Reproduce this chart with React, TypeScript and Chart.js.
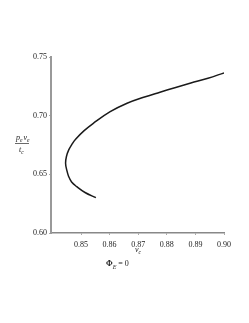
import React, { useEffect, useRef } from "react";
import { Chart, registerables } from "chart.js";

Chart.register(...registerables);

const vcValues = [0.8552, 0.8514, 0.8485, 0.8467, 0.8457, 0.845, 0.8446, 0.8449, 0.8457, 0.8469, 0.8481, 0.851, 0.8543, 0.8602, 0.8661, 0.8719, 0.8776, 0.8831, 0.8884, 0.8944, 0.9];
const ratioValues = [0.6301, 0.6345, 0.6395, 0.6435, 0.648, 0.6537, 0.6594, 0.6652, 0.6708, 0.6759, 0.6799, 0.687, 0.6935, 0.7034, 0.7106, 0.7157, 0.72, 0.724, 0.7278, 0.7319, 0.7365];
const xTicks = [0.85, 0.86, 0.87, 0.88, 0.89, 0.9];
const yTicks = [0.6, 0.65, 0.7, 0.75];

const SERIF = "'Liberation Serif', 'DejaVu Serif', serif";

function subText(ctx: CanvasRenderingContext2D, x: number, y: number, main: string, sub: string, size: number, italicMain = true, boldMain = false) {
  ctx.font = `${italicMain ? "italic " : ""}${boldMain ? "bold " : ""}${size}px ${SERIF}`;
  ctx.fillText(main, x, y);
  const w = ctx.measureText(main).width;
  ctx.font = `italic ${size * 0.7}px ${SERIF}`;
  ctx.fillText(sub, x + w, y + size * 0.3);
  return w + ctx.measureText(sub).width;
}

const labelsPlugin = {
  id: "labelsPlugin",
  afterDraw(chart: any) {
    const ctx = chart.ctx as CanvasRenderingContext2D;
    ctx.save();
    ctx.fillStyle = "#222";
    ctx.textBaseline = "alphabetic";
    ctx.textAlign = "left";
    // y title fraction
    let x = 16;
    x += subText(ctx, x, 140, "p", "e", 8);
    x += 1;
    subText(ctx, x, 140, "v", "e", 8);
    ctx.strokeStyle = "#444";
    ctx.lineWidth = 0.8;
    ctx.beginPath();
    ctx.moveTo(15, 143.5);
    ctx.lineTo(29, 143.5);
    ctx.stroke();
    subText(ctx, 19, 152, "t", "c", 8);
    // x title
    subText(ctx, 135, 252, "v", "c", 8);
    // Phi_E = 0
    ctx.font = `bold 8px ${SERIF}`;
    ctx.fillText("\u03A6", 106, 266);
    let w = ctx.measureText("\u03A6").width;
    ctx.font = `italic 6px ${SERIF}`;
    ctx.fillText("E", 106 + w, 268.5);
    w += ctx.measureText("E").width;
    ctx.font = `8px ${SERIF}`;
    ctx.fillText(" = 0", 106 + w, 266);
    ctx.restore();
  },
};

export default function App() {
  const ref = useRef<HTMLCanvasElement>(null);
  useEffect(() => {
    if (!ref.current) return;
    const points = vcValues.map((v, i) => ({ x: v, y: ratioValues[i] }));
    const chart = new Chart(ref.current, {
      type: "scatter",
      data: {
        datasets: [
          {
            data: points,
            showLine: true,
            tension: 0.4,
            borderColor: "#1a1a1a",
            borderWidth: 1.5,
            pointRadius: 0,
            fill: false,
          },
        ],
      },
      options: {
        responsive: false,
        animation: false,
        events: [],
        layout: { padding: { left: 0, top: 57, right: 25, bottom: 70 } },
        plugins: { legend: { display: false }, tooltip: { enabled: false } },
        scales: {
          x: {
            type: "linear",
            min: 0.8395,
            max: 0.9,
            afterFit: (s: any) => { s.height = 20; },
            afterBuildTicks: (s: any) => { s.ticks = xTicks.map((v) => ({ value: v })); },
            grid: { display: true, drawOnChartArea: false, drawTicks: true, tickLength: 2, color: "#aaa" },
            border: { display: true, color: "#888", width: 1.5 },
            ticks: {
              padding: 5,
              color: "#222",
              font: { family: SERIF, size: 8 },
              maxRotation: 0,
              callback: (v: any) => Number(v).toFixed(2),
            },
          },
          y: {
            type: "linear",
            min: 0.6,
            max: 0.75,
            afterFit: (s: any) => { s.width = 51; },
            afterBuildTicks: (s: any) => { s.ticks = yTicks.map((v) => ({ value: v })); },
            grid: { display: true, drawOnChartArea: false, drawTicks: true, tickLength: 2, color: "#aaa" },
            border: { display: true, color: "#999", width: 2 },
            ticks: {
              padding: 2,
              color: "#222",
              font: { family: SERIF, size: 8 },
              callback: (v: any) => Number(v).toFixed(2),
            },
          },
        },
      },
      plugins: [labelsPlugin],
    });
    return () => chart.destroy();
  }, []);
  return (
    <div style={{ position: "fixed", left: 0, top: 0, width: 249, height: 323, background: "#fff" }}>
      <canvas ref={ref} width={249} height={323} />
    </div>
  );
}
